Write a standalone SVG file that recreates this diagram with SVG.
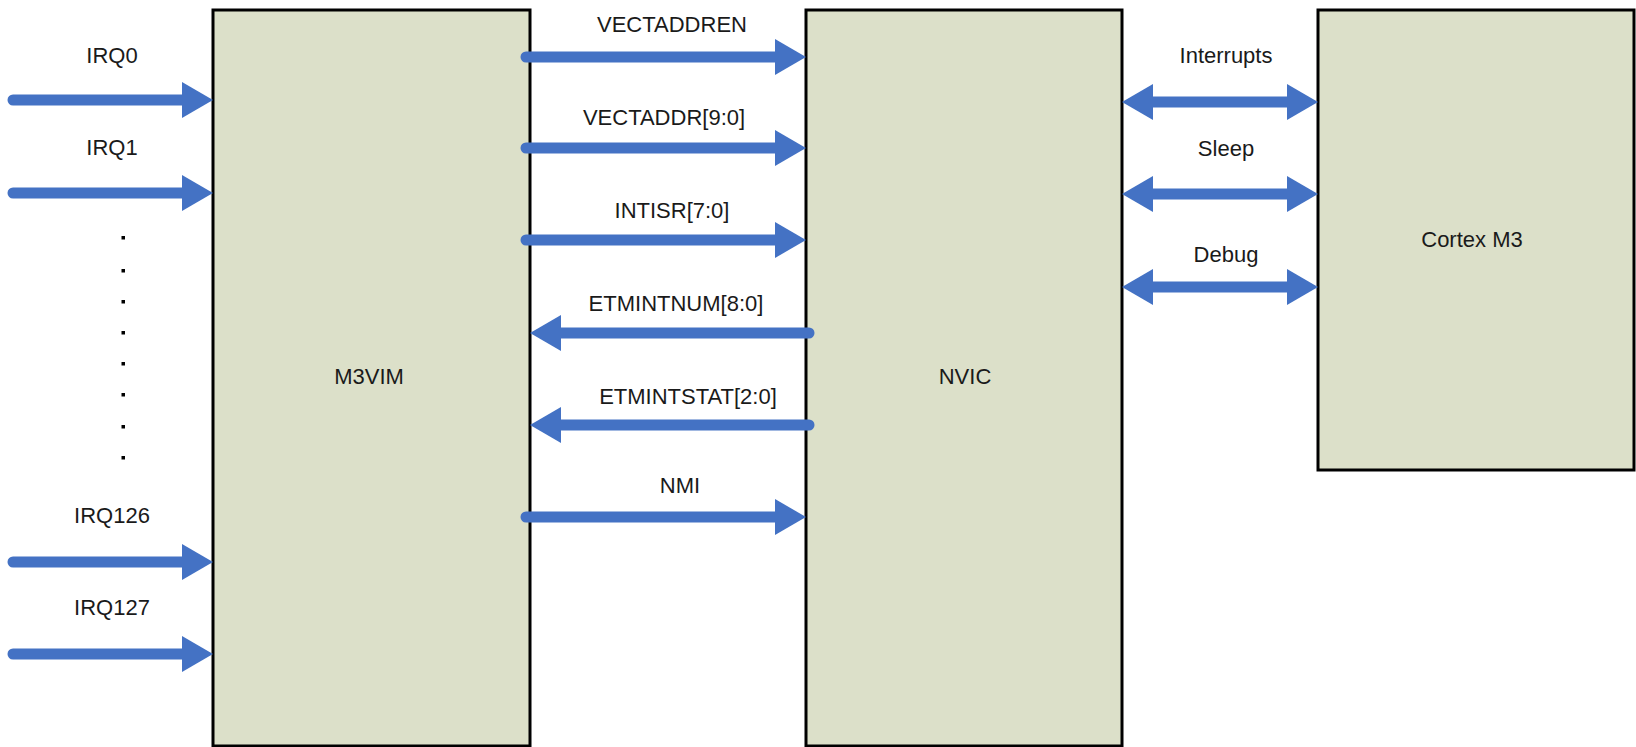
<svg xmlns="http://www.w3.org/2000/svg" width="1636" height="747" viewBox="0 0 1636 747">
  <style>
    .block { fill: #DCE0C9; stroke: #000; stroke-width: 3; }
    .lbl { font-family: "Liberation Sans", Arial, sans-serif; font-size: 22px; fill: #1a1a1a; text-anchor: middle; }
    .wire { fill: none; stroke: #4472C4; stroke-width: 11; stroke-linecap: round; }
    .one { marker-end: url(#head); }
    .both { marker-start: url(#head); marker-end: url(#head); }
    .dot { fill: #000; }
  </style>
  <defs>
    <!-- solid triangular head; the wire ends 20px short of the tip -->
    <marker id="head" markerUnits="userSpaceOnUse" viewBox="0 -18 31 36" markerWidth="31" markerHeight="36" refX="11" refY="0" orient="auto-start-reverse">
      <path d="M0,-18 L31,0 L0,18 Z" fill="#4472C4"/>
    </marker>
  </defs>

  <g id="m3vim">
    <rect class="block" x="213" y="10" width="317" height="736"/>
    <text class="lbl" x="369" y="384">M3VIM</text>
  </g>
  <g id="nvic">
    <rect class="block" x="806" y="10" width="316" height="736"/>
    <text class="lbl" x="965" y="384">NVIC</text>
  </g>
  <g id="cortex-m3">
    <rect class="block" x="1318" y="10" width="316" height="460"/>
    <text class="lbl" x="1472" y="247">Cortex M3</text>
  </g>

  <g id="connectors">
    <!-- interrupt request inputs -->
    <path class="wire one" d="M13,100 H193"/>
    <path class="wire one" d="M13,193 H193"/>
    <path class="wire one" d="M13,562 H193"/>
    <path class="wire one" d="M13,654 H193"/>
    <!-- M3VIM <-> NVIC -->
    <path class="wire one" d="M526,57 H786"/>
    <path class="wire one" d="M526,148 H786"/>
    <path class="wire one" d="M526,240 H786"/>
    <path class="wire one" d="M809,333 H550"/>
    <path class="wire one" d="M809,425 H550"/>
    <path class="wire one" d="M526,517 H786"/>
    <!-- NVIC <-> core -->
    <path class="wire both" d="M1142,102 H1298"/>
    <path class="wire both" d="M1142,194 H1298"/>
    <path class="wire both" d="M1142,287 H1298"/>
  </g>

  <g id="labels">
    <text class="lbl" x="112" y="63">IRQ0</text>
    <text class="lbl" x="112" y="155">IRQ1</text>
    <text class="lbl" x="112" y="523">IRQ126</text>
    <text class="lbl" x="112" y="615">IRQ127</text>
    <text class="lbl" x="672" y="32">VECTADDREN</text>
    <text class="lbl" x="664" y="125">VECTADDR[9:0]</text>
    <text class="lbl" x="672" y="218">INTISR[7:0]</text>
    <text class="lbl" x="676" y="311">ETMINTNUM[8:0]</text>
    <text class="lbl" x="688" y="404">ETMINTSTAT[2:0]</text>
    <text class="lbl" x="680" y="493">NMI</text>
    <text class="lbl" x="1226" y="63">Interrupts</text>
    <text class="lbl" x="1226" y="156">Sleep</text>
    <text class="lbl" x="1226" y="262">Debug</text>
  </g>

  <g id="ellipsis">
    <rect class="dot" x="121.5" y="236" width="3.5" height="3.5"/>
    <rect class="dot" x="121.5" y="269" width="3.5" height="3.5"/>
    <rect class="dot" x="121.5" y="300" width="3.5" height="3.5"/>
    <rect class="dot" x="121.5" y="331" width="3.5" height="3.5"/>
    <rect class="dot" x="121.5" y="362" width="3.5" height="3.5"/>
    <rect class="dot" x="121.5" y="393" width="3.5" height="3.5"/>
    <rect class="dot" x="121.5" y="425" width="3.5" height="3.5"/>
    <rect class="dot" x="121.5" y="456" width="3.5" height="3.5"/>
  </g>
</svg>
